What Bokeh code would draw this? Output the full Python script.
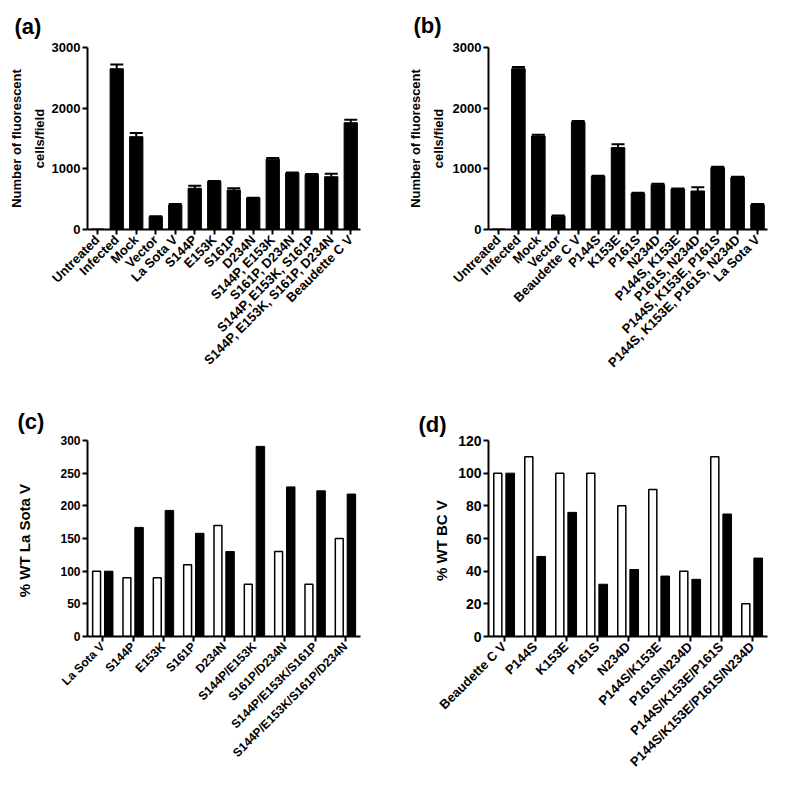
import math
from bokeh.plotting import figure
from bokeh.models import (ColumnDataSource, FactorRange, Range1d, FixedTicker, Whisker,
                          TeeHead, LinearAxis, Title)
from bokeh.transform import dodge
from bokeh.layouts import gridplot
from bokeh.embed import file_html
from bokeh.resources import INLINE

FONT = "Liberation Sans"

# ---------------- data ----------------
cats_a = ["Untreated", "Infected", "Mock", "Vector", "La Sota V", "S144P", "E153K", "S161P",
          "D234N", "S144P, E153K", "S161P, D234N", "S144P, E153K, S161P",
          "S144P, E153K, S161P, D234N", "Beaudette C V"]
vals_a = [0, 2650, 1530, 210, 405, 680, 790, 650, 520, 1160, 930, 905, 870, 1760]
errs_a = [0, 70, 60, 10, 15, 40, 10, 30, 5, 20, 10, 10, 50, 50]

cats_b = ["Untreated", "Infected", "Mock", "Vector", "Beaudette C V", "P144S", "K153E", "P161S",
          "N234D", "P144S, K153E", "P161S, N234D", "P144S, K153E, P161S",
          "P144S, K153E, P161S, N234D", "La Sota V"]
vals_b = [0, 2650, 1540, 220, 1770, 875, 1350, 595, 738, 667, 635, 1020, 858, 410]
errs_b = [0, 30, 20, 10, 20, 10, 55, 10, 15, 10, 60, 15, 10, 10]

cats_c = ["La Sota V", "S144P", "E153K", "S161P", "D234N", "S144P/E153K", "S161P/D234N",
          "S144P/E153K/S161P", "S144P/E153K/S161P/D234N"]
white_c = [100, 90, 90, 110, 170, 80, 130, 80, 150]
black_c = [100, 167, 193, 158, 130, 291, 229, 223, 218]

cats_d = ["Beaudette C V", "P144S", "K153E", "P161S", "N234D", "P144S/K153E", "P161S/N234D",
          "P144S/K153E/P161S", "P144S/K153E/P161S/N234D"]
white_d = [100, 110, 100, 100, 80, 90, 40, 110, 20]
black_d = [100, 49, 76, 32, 41, 37, 35, 75, 48]

ticks_ab = [0, 1000, 2000, 3000]
ticks_c = [0, 50, 100, 150, 200, 250, 300]
ticks_d = [0, 20, 40, 60, 80, 100, 120]


def make_fig(cats, ymax, ticks, tag, tag_offset, tag_standoff, w, h, bl, br, bt, bb, ylabel,
             tick_fs, xlab_fs, ylab_fs, ylab_standoff, outer_label=None, outer_standoff=5):
    p = figure(width=w, height=h, x_range=FactorRange(*cats), y_range=Range1d(0, ymax),
               output_backend="svg", toolbar_location=None,
               min_border_left=bl, min_border_right=br, min_border_top=bt, min_border_bottom=bb)
    p.title = Title(text=tag, align="left", offset=tag_offset, standoff=tag_standoff,
                    text_font=FONT, text_font_size="22px", text_font_style="bold",
                    text_color="black")
    p.outline_line_color = None
    p.xgrid.visible = False
    p.ygrid.visible = False
    p.x_range.range_padding = 0
    for ax in (p.xaxis, p.yaxis):
        ax.axis_line_width = 2
        ax.axis_line_color = "black"
        ax.major_tick_line_width = 2
        ax.major_tick_line_color = "black"
        ax.major_tick_out = 5
        ax.major_tick_in = 0
        ax.minor_tick_line_color = None
        ax.major_label_text_font = FONT
        ax.major_label_text_font_style = "bold"
        ax.major_label_text_color = "black"
    p.yaxis.ticker = FixedTicker(ticks=ticks)
    p.yaxis.major_label_text_font_size = tick_fs
    p.xaxis.major_label_text_font_size = xlab_fs
    p.xaxis.major_label_orientation = math.pi / 4
    p.xaxis.major_label_standoff = 3
    p.yaxis.major_label_standoff = 2
    p.yaxis.axis_label = ylabel
    p.yaxis.axis_label_text_font = FONT
    p.yaxis.axis_label_text_font_style = "bold"
    p.yaxis.axis_label_text_font_size = ylab_fs
    p.yaxis.axis_label_standoff = ylab_standoff
    p.yaxis.axis_label_text_color = "black"
    if outer_label:
        ax2 = LinearAxis(ticker=FixedTicker(ticks=[]), axis_label=outer_label,
                         axis_line_color=None, major_tick_line_color=None,
                         minor_tick_line_color=None,
                         axis_label_text_font=FONT, axis_label_text_font_style="bold",
                         axis_label_text_font_size=ylab_fs, axis_label_text_color="black",
                         axis_label_standoff=outer_standoff)
        p.add_layout(ax2, "left")
    return p


def bar_panel(p, cats, vals, errs):
    upper = [v + e for v, e in zip(vals, errs)]
    src = ColumnDataSource(dict(cat=cats, val=vals, upper=upper))
    p.vbar(x="cat", top="val", bottom=0, width=0.68, source=src,
           fill_color="black", line_color="black")
    w = Whisker(base="cat", upper="upper", lower="val", source=src,
                line_color="black", line_width=2,
                upper_head=TeeHead(size=13, line_color="black", line_width=2),
                lower_head=None)
    p.add_layout(w)


def pair_panel(p, cats, whites, blacks):
    src = ColumnDataSource(dict(cat=cats, w=whites, b=blacks))
    p.vbar(x=dodge("cat", -0.2, range=p.x_range), top="w", bottom=0, width=0.26, source=src,
           fill_color="white", line_color="black", line_width=1.5)
    p.vbar(x=dodge("cat", 0.2, range=p.x_range), top="b", bottom=0, width=0.28, source=src,
           fill_color="black", line_color="black")


pa = make_fig(cats_a, 3000, ticks_ab, "(a)", -73, 18, 400, 399, 86, 40, 46, 170,
              "cells/field", "13px", "13px", "13px", 2, "Number of fluorescent", 5)
bar_panel(pa, cats_a, vals_a, errs_a)

pb = make_fig(cats_b, 3000, ticks_ab, "(b)", -75, 20, 392, 399, 88, 25, 47, 170,
              "cells/field", "13px", "13px", "13px", 4, "Number of fluorescent", 5)
bar_panel(pb, cats_b, vals_b, errs_b)

pc = make_fig(cats_c, 300, ticks_c, "(c)", -70, 14, 400, 391, 87, 20, 41, 154,
              "% WT La  Sota V", "12px", "12px", "15px", 24)
pair_panel(pc, cats_c, white_c, black_c)

pd = make_fig(cats_d, 120, ticks_d, "(d)", -70, 8, 392, 391, 88, 7, 38, 154,
              "% WT BC  V", "14px", "13px", "15px", 5)
pair_panel(pd, cats_d, white_d, black_d)

grid = gridplot([[pa, pb], [pc, pd]], toolbar_location=None)

open("out.html", "w").write(file_html(grid, INLINE))
